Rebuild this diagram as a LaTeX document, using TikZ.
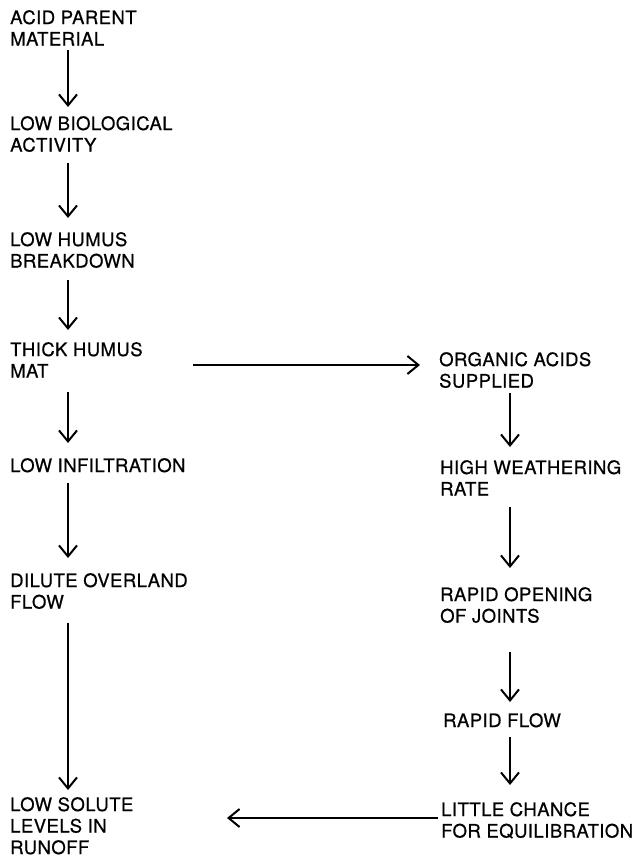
\documentclass[tikz,border=0pt]{standalone}
\usepackage{fontspec}
\usepackage{tikz}
\usetikzlibrary{arrows.meta}
\newfontfamily\chartfont{TeX Gyre Heros}[LetterSpace=2.5,FakeBold=0.6]
\newcommand{\linethick}{2pt}
\newcommand{\leftx}{58pt}
\newcommand{\rightx}{70pt}
\tikzset{stage/.style={anchor=north west, inner sep=0pt, align=left, font=\chartfont\fontsize{18.5}{21.5}\selectfont},
flow/.style={line width=\linethick, -{Straight Barb[length=11pt,width=18pt,line width=\linethick]}}}

\begin{document}
\begin{tikzpicture}[x=1pt,y=-1pt]
\useasboundingbox (0,0) rectangle (634,857);
%left column
\node[stage] (a1) at (10,10) {ACID PARENT\\MATERIAL};
\node[stage] (a2) at (10,116) {LOW BIOLOGICAL\\ACTIVITY};
\node[stage] (a3) at (10,232) {LOW HUMUS\\BREAKDOWN};
\node[stage] (a4) at (10,342) {THICK HUMUS\\MAT};
\node[stage] (a5) at (10,458) {LOW INFILTRATION};
\node[stage] (a6) at (10,573) {DILUTE OVERLAND\\FLOW};
\node[stage] (a7) at (10,797) {LOW SOLUTE\\LEVELS IN\\RUNOFF};
%right column
\node[stage] (b1) at (439,352) {ORGANIC ACIDS\\SUPPLIED};
\node[stage] (b2) at (440,460) {HIGH WEATHERING\\RATE};
\node[stage] (b3) at (440,587) {RAPID OPENING\\OF JOINTS};
\node[stage] (b4) at (443,713) {RAPID FLOW};
\node[stage] (b5) at (441,802) {LITTLE CHANCE\\FOR EQUILIBRATION};
%down the left
\draw[flow] ([shift={(\leftx,-40pt)}]a1.north west) -- ([shift={(\leftx,9pt)}]a2.north west);
\draw[flow] ([shift={(\leftx,-47pt)}]a2.north west) -- ([shift={(\leftx,14pt)}]a3.north west);
\draw[flow] ([shift={(\leftx,-48pt)}]a3.north west) -- ([shift={(\leftx,12pt)}]a4.north west);
\draw[flow] ([shift={(\leftx,-50pt)}]a4.north west) -- ([shift={(\leftx,15pt)}]a5.north west);
\draw[flow] ([shift={(\leftx,-25pt)}]a5.north west) -- ([shift={(\leftx,15pt)}]a6.north west);
\draw[flow] ([shift={(\leftx,-50pt)}]a6.north west) -- ([shift={(\leftx,7pt)}]a7.north west);
%down the right
\draw[flow] ([shift={(71pt,-41pt)}]b1.north west) -- ([shift={(\rightx,13pt)}]b2.north west);
\draw[flow] ([shift={(\rightx,-47pt)}]b2.north west) -- ([shift={(\rightx,19pt)}]b3.north west);
\draw[flow] ([shift={(\rightx,-65pt)}]b3.north west) -- ([shift={(67pt,11pt)}]b4.north west);
\draw[flow] ([shift={(67pt,-24pt)}]b4.north west) -- ([shift={(69pt,17pt)}]b5.north west);
%across
\draw[flow] ([shift={(183pt,-23pt)}]a4.north west) -- ([shift={(-19pt,-13pt)}]b1.north west);
\draw[flow] ([shift={(-3pt,-16pt)}]b5.north west) -- ([shift={(217pt,-21pt)}]a7.north west);
\end{tikzpicture}
\end{document}
